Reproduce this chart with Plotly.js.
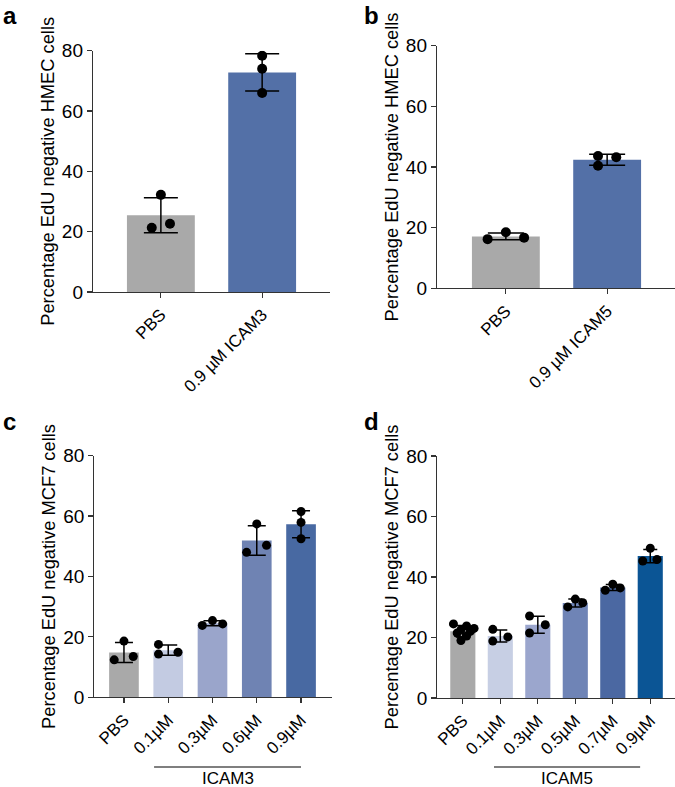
<!DOCTYPE html>
<html>
<head>
<meta charset="utf-8">
<script src="https://cdn.plot.ly/plotly-3.0.1.min.js"></script>
<style>
  body { margin: 0; background: #fff; }
  #plotArea { width: 675px; height: 787px; }
</style>
</head>
<body>
<div id="plotArea"></div>
<script>
// panel a - HMEC, ICAM3
var aLabels = ["PBS", "0.9 µM ICAM3"];
var aMeans = [25.4, 72.8];
var aSD = [5.8, 6.2];
var aPoints = [[32.2, 21.3, 22.6], [78.3, 74.0, 66.0]];
var aJitter = [[0, -0.09, 0.09], [0, 0, 0]];
var aColors = ["#a9a9a9", "#5370a7"];

// panel b - HMEC, ICAM5
var bLabels = ["PBS", "0.9 µM ICAM5"];
var bMeans = [17.1, 42.4];
var bSD = [1.1, 1.8];
var bPoints = [[16.2, 18.5, 16.7], [43.6, 43.2, 40.4]];
var bJitter = [[-0.18, 0, 0.18], [-0.09, 0.09, -0.09]];
var bColors = ["#a9a9a9", "#5370a7"];

// panel c - MCF7, ICAM3 doses
var cLabels = ["PBS", "0.1µM", "0.3µM", "0.6µM", "0.9µM"];
var cMeans = [14.8, 15.6, 24.5, 51.9, 57.3];
var cSD = [3.3, 1.7, 0.8, 4.9, 4.5];
var cPoints = [[18.6, 12.4, 13.5], [17.5, 14.3, 14.9], [23.8, 25.4, 24.3], [57.4, 48.0, 50.3], [61.5, 57.9, 52.5]];
var cJitter = [[0, -0.22, 0.21], [-0.22, -0.22, 0.22], [-0.23, 0, 0.23], [0, -0.23, 0.22], [0, 0, 0]];
var cColors = ["#a9a9a9", "#c3cbe2", "#9aa5cb", "#6f83b3", "#4869a2"];

// panel d - MCF7, ICAM5 doses
var dLabels = ["PBS", "0.1µM", "0.3µM", "0.5µM", "0.7µM", "0.9µM"];
var dMeans = [22.1, 20.5, 24.2, 31.4, 36.5, 46.9];
var dSD = [1.9, 2.0, 2.8, 1.3, 1.0, 2.2];
var dPoints = [[24.5, 23.8, 23.0, 22.6, 22.0, 21.5, 20.5, 19.0], [22.7, 18.8, 20.2], [27.1, 21.5, 24.2],
               [30.1, 32.7, 31.5], [35.6, 37.6, 36.4], [49.5, 45.3, 45.8]];
var dJitter = [[-0.25, 0.1, 0.3, -0.05, 0.2, -0.15, 0.1, -0.05], [-0.2, -0.2, 0.2], [-0.22, -0.22, 0.2],
               [-0.2, 0, 0.2], [-0.2, 0, 0.2], [0, -0.2, 0.18]];
var dColors = ["#a9a9a9", "#c7cfe4", "#9ba6cd", "#6f84b6", "#4b68a2", "#0b5595"];

function panel(labels, means, sd, points, jitter, colors, ax, capW, dotSize) {
  var idx = labels.map(function (l, i) { return i; });
  var bars = {
    type: "bar", x: idx, y: means, width: 0.67,
    marker: {color: colors, line: {width: 0}},
    error_y: {type: "data", array: sd, visible: true, color: "#000", thickness: 1.5, width: capW},
    xaxis: "x" + ax, yaxis: "y" + ax, hoverinfo: "none"
  };
  var px = [], py = [];
  points.forEach(function (grp, i) {
    grp.forEach(function (v, j) { px.push(i + jitter[i][j]); py.push(v); });
  });
  var dots = {
    type: "scatter", mode: "markers", x: px, y: py,
    marker: {color: "#000", size: dotSize},
    xaxis: "x" + ax, yaxis: "y" + ax, hoverinfo: "none"
  };
  return [bars, dots];
}

var data = [].concat(
  panel(aLabels, aMeans, aSD, aPoints, aJitter, aColors, "", 17, 10),
  panel(bLabels, bMeans, bSD, bPoints, bJitter, bColors, "2", 18, 10),
  panel(cLabels, cMeans, cSD, cPoints, cJitter, cColors, "3", 9, 9),
  panel(dLabels, dMeans, dSD, dPoints, dJitter, dColors, "4", 7, 9)
);

var lineCol = "#333";
function xAx(domain, range, labels, anchor) {
  return {
    domain: domain, range: range, anchor: anchor,
    tickvals: labels.map(function (l, i) { return i; }), ticktext: labels,
    tickangle: -45, showgrid: false, zeroline: false, showline: true,
    linecolor: lineCol, linewidth: 1.2, ticks: "outside", ticklen: 5,
    tickcolor: lineCol, tickwidth: 1.2, tickfont: {size: 17, color: "#000"}
  };
}
function yAx(domain, title, anchor) {
  return {
    domain: domain, range: [0, 80], anchor: anchor,
    tickvals: [0, 20, 40, 60, 80], showgrid: false, zeroline: false, showline: true,
    linecolor: lineCol, linewidth: 1.2, ticks: "outside", ticklen: 5,
    tickcolor: lineCol, tickwidth: 1.2, tickfont: {size: 19, color: "#000"},
    title: {text: title, font: {size: 18.3, color: "#000"}, standoff: 2}
  };
}

var layout = {
  width: 675, height: 787,
  margin: {l: 0, r: 0, t: 0, b: 0},
  showlegend: false,
  paper_bgcolor: "#fff", plot_bgcolor: "#fff",
  font: {family: "Liberation Sans, Arial, sans-serif", color: "#000"},
  xaxis: xAx([0.1378, 0.4889], [-0.67, 1.67], aLabels, "y"),
  yaxis: yAx([0.629, 0.9356], "Percentage EdU negative HMEC cells", "x"),
  xaxis2: xAx([0.6474, 1.0], [-0.68, 1.67], bLabels, "y2"),
  yaxis2: yAx([0.6337, 0.942], "Percentage EdU negative HMEC cells", "x2"),
  xaxis3: xAx([0.1397, 0.4919], [-0.67, 4.7], cLabels, "y3"),
  yaxis3: yAx([0.114, 0.421], "Percentage EdU negative MCF7 cells", "x3"),
  xaxis4: xAx([0.6479, 1.0], [-0.68, 5.66], dLabels, "y4"),
  yaxis4: yAx([0.1131, 0.4206], "Percentage EdU negative MCF7 cells", "x4"),
  shapes: [
    {type: "line", xref: "x3", yref: "paper", x0: 0.68, x1: 4.0, y0: 0.0254, y1: 0.0254,
     line: {color: "#000", width: 1.2}},
    {type: "line", xref: "x4", yref: "paper", x0: 0.83, x1: 4.73, y0: 0.0254, y1: 0.0254,
     line: {color: "#000", width: 1.2}}
  ],
  annotations: [
    {text: "ICAM3", xref: "x3", yref: "paper", x: 2.35, y: -0.004, showarrow: false,
     xanchor: "center", yanchor: "bottom", font: {size: 17}},
    {text: "ICAM5", xref: "x4", yref: "paper", x: 2.78, y: -0.004, showarrow: false,
     xanchor: "center", yanchor: "bottom", font: {size: 17}},
    {text: "<b>a</b>", xref: "paper", yref: "paper", x: 0.002, y: 1.0, xanchor: "left", yanchor: "top",
     showarrow: false, font: {size: 24}},
    {text: "<b>b</b>", xref: "paper", yref: "paper", x: 0.536, y: 1.0, xanchor: "left", yanchor: "top",
     showarrow: false, font: {size: 24}},
    {text: "<b>c</b>", xref: "paper", yref: "paper", x: 0.002, y: 0.484, xanchor: "left", yanchor: "top",
     showarrow: false, font: {size: 24}},
    {text: "<b>d</b>", xref: "paper", yref: "paper", x: 0.536, y: 0.484, xanchor: "left", yanchor: "top",
     showarrow: false, font: {size: 24}}
  ]
};

Plotly.newPlot("plotArea", data, layout, {staticPlot: true, displayModeBar: false});
</script>
</body>
</html>
